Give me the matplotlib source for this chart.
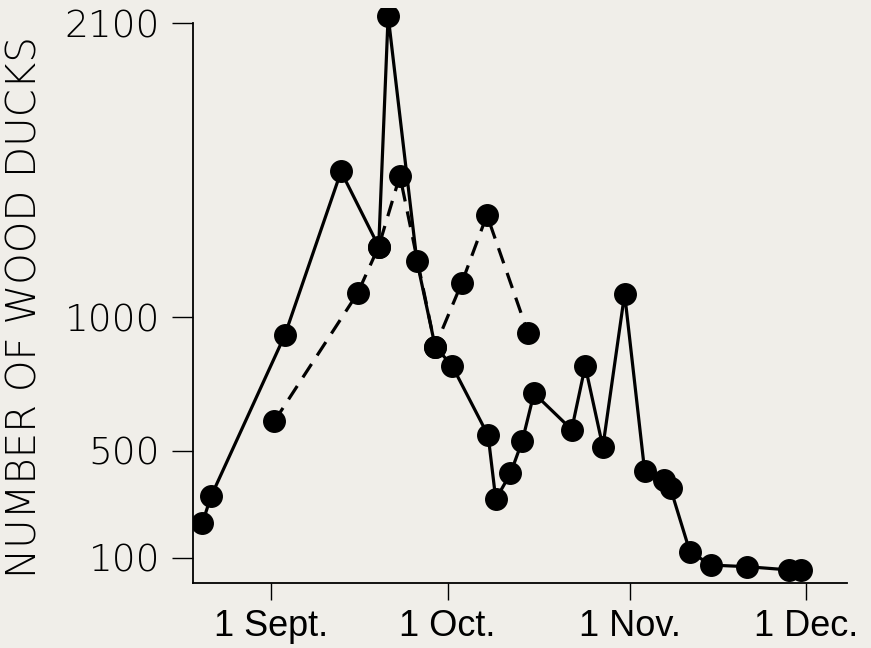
import matplotlib
matplotlib.use("Agg")
import matplotlib.pyplot as plt

# days counted from 1 Sept (1 Oct = 30, 1 Nov = 61, 1 Dec = 91)
solid_days = [-11.7, -10.2, 2.35, 11.9, 18.3, 19.9, 24.8, 27.9, 30.8, 36.9,
              38.2, 40.7, 42.7, 44.7, 51.1, 53.4, 56.4, 60.1, 63.5, 66.8,
              67.9, 71.2, 74.8, 80.9, 88.0, 90.1]
solid_counts = [228, 329, 933, 1545, 1264, 2128, 1209, 890, 817, 557,
                318, 415, 536, 715, 579, 817, 514, 1087, 425, 390,
                359, 122, 72, 66, 54, 54]

dashed_days = [0.55, 14.7, 18.3, 21.9, 27.9, 32.4, 36.7, 43.7]
dashed_counts = [610, 1089, 1264, 1529, 890, 1127, 1382, 939]

y_ticks = [100, 500, 1000, 2100]
x_ticks = [0, 30, 61, 91]
x_labels = ["1 Sept.", "1 Oct.", "1 Nov.", "1 Dec."]

bg = "#f0eee9"
fig = plt.figure(figsize=(8.71, 6.48), dpi=100, facecolor=bg)
ax = fig.add_axes([0.2219, 0.1008, 0.7502, 0.8869], facecolor=bg)

ax.plot(dashed_days, dashed_counts, color="black", lw=2.3, dashes=(5, 3.2),
        marker="o", markersize=15.5, zorder=3)
ax.plot(solid_days, solid_counts, color="black", lw=2.3,
        marker="o", markersize=15.5, zorder=4)

ax.set_xlim(-13.22, 97.85)
ax.set_ylim(6.1, 2157)

for s in ["top", "right"]:
    ax.spines[s].set_visible(False)
ax.spines["left"].set_bounds(6.1, 2100)
ax.spines["left"].set_linewidth(1.3)
ax.spines["bottom"].set_linewidth(1.3)

ax.set_yticks(y_ticks)
ax.set_yticklabels([str(v) for v in y_ticks], fontsize=27, family="DejaVu Sans",
                   fontweight="light")
ax.set_xticks(x_ticks)
ax.set_xticklabels(x_labels, fontsize=26, family="Liberation Sans")
ax.tick_params(axis="y", length=15, width=1, pad=9)
ax.tick_params(axis="x", length=12, width=1, pad=7)

ax.set_ylabel("NUMBER OF WOOD DUCKS", fontsize=29, family="DejaVu Sans",
              fontweight="light", va="center")
ax.yaxis.set_label_coords(-0.2576, 0.479)

plt.savefig("out.png", dpi=100, facecolor=bg)
plt.close()
